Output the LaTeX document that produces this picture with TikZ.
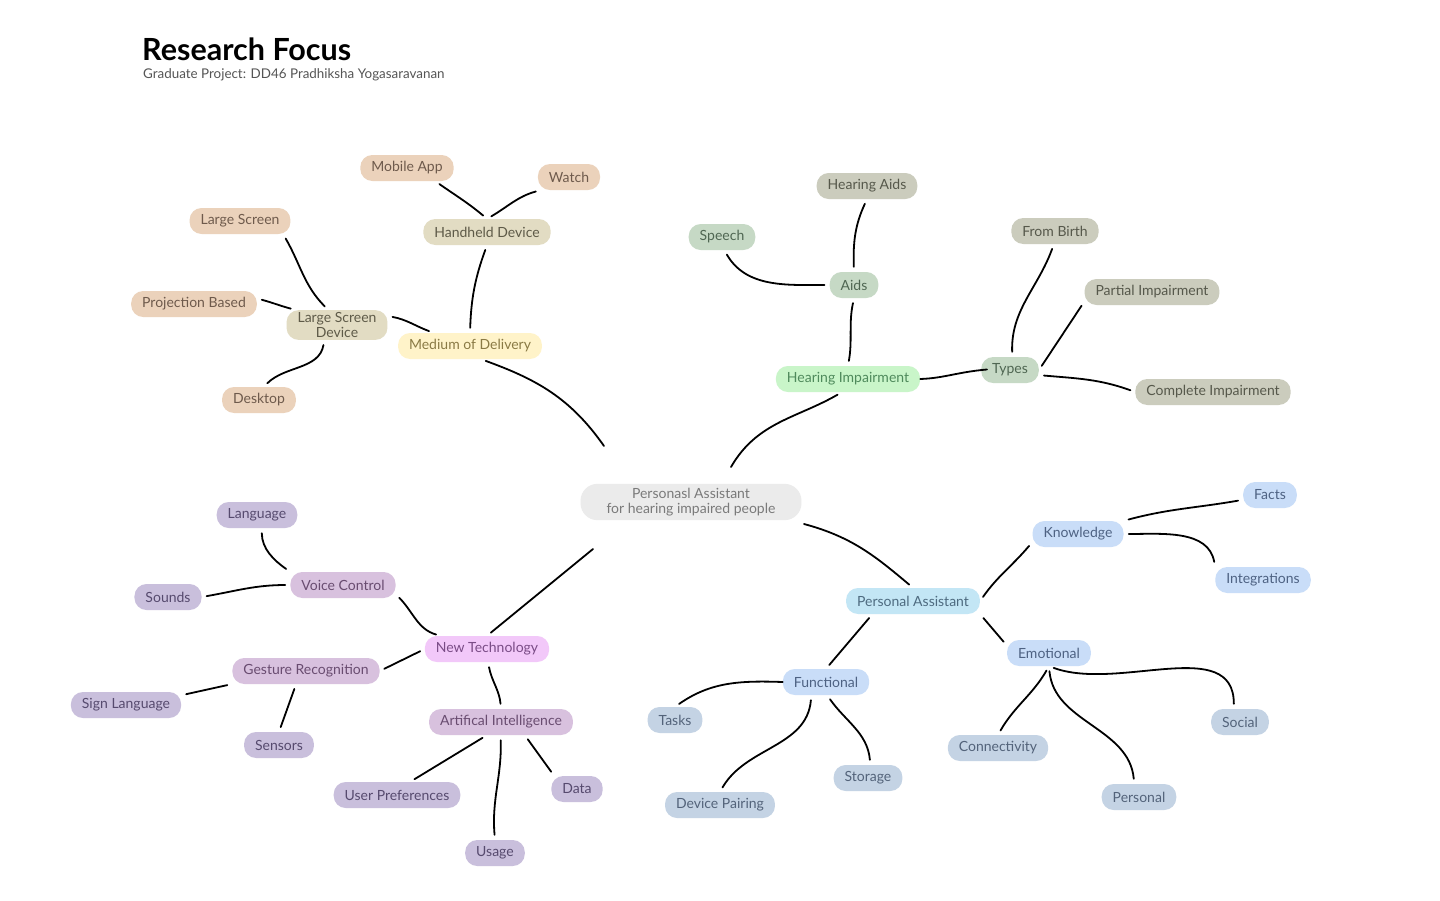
\documentclass[tikz,border=0pt]{standalone}
\usepackage{fontspec}
\setmainfont{Lato}
\usepackage{tikz}

\definecolor{rootfill}{HTML}{EBEBEB}
\definecolor{roottext}{HTML}{7A7A7A}
\definecolor{subtext}{HTML}{555555}
\definecolor{medfill}{HTML}{FFF3C9}
\definecolor{medtext}{HTML}{8A7A45}
\definecolor{tanfill}{HTML}{E2DCC3}
\definecolor{tantext}{HTML}{5E5A48}
\definecolor{peachfill}{HTML}{EBD2BB}
\definecolor{peachtext}{HTML}{6E5A4C}
\definecolor{hifill}{HTML}{C9F5C9}
\definecolor{hitext}{HTML}{4F8A5C}
\definecolor{sagefill}{HTML}{C6D9C5}
\definecolor{sagetext}{HTML}{4F6652}
\definecolor{olivefill}{HTML}{CBCCBD}
\definecolor{olivetext}{HTML}{56584B}
\definecolor{pafill}{HTML}{C3E6F5}
\definecolor{patext}{HTML}{4E6B80}
\definecolor{skyfill}{HTML}{C9DDF8}
\definecolor{skytext}{HTML}{4E6283}
\definecolor{slatefill}{HTML}{C4D3E4}
\definecolor{slatetext}{HTML}{53637A}
\definecolor{ntfill}{HTML}{F2C8F9}
\definecolor{nttext}{HTML}{7A4C86}
\definecolor{mauvefill}{HTML}{D8C1DE}
\definecolor{mauvetext}{HTML}{694C70}
\definecolor{lavfill}{HTML}{C9BFDC}
\definecolor{lavtext}{HTML}{564A6E}

\tikzset{
  topic/.style={rectangle,rounded corners=12pt,minimum height=26pt,inner xsep=11pt,inner ysep=3pt,font=\fontsize{14}{15.5}\selectfont},
  rootnode/.style={topic,fill=rootfill,text=roottext,align=center,rounded corners=17pt,inner xsep=26pt,inner ysep=4pt},
  med/.style={topic,fill=medfill,text=medtext},
  tan/.style={topic,fill=tanfill,text=tantext},
  peach/.style={topic,fill=peachfill,text=peachtext},
  hear/.style={topic,fill=hifill,text=hitext},
  sage/.style={topic,fill=sagefill,text=sagetext},
  olive/.style={topic,fill=olivefill,text=olivetext},
  assist/.style={topic,fill=pafill,text=patext},
  sky/.style={topic,fill=skyfill,text=skytext},
  slate/.style={topic,fill=slatefill,text=slatetext},
  tech/.style={topic,fill=ntfill,text=nttext},
  mauve/.style={topic,fill=mauvefill,text=mauvetext},
  lav/.style={topic,fill=lavfill,text=lavtext},
  link/.style={line width=1.8pt,line cap=round,shorten >=5pt,shorten <=5pt},
}

\begin{document}
\begin{tikzpicture}[x=1pt,y=-1pt]
\path[fill=white,use as bounding box] (0,0) rectangle (1440,900);

\node[anchor=base west,inner sep=0pt,font=\bfseries\fontsize{30.5}{32}\selectfont] (title) at (142,60) {Research Focus};
\node[anchor=base west,inner sep=0pt,text=subtext,font=\fontsize{13.4}{15}\selectfont] (subtitle) at (143,78) {Graduate Project: DD46 Pradhiksha Yogasaravanan};

\node[rootnode] (root) at (691,502) {Personasl Assistant\\for hearing impaired people};

% medium of delivery
\node[med] (med) at (470,346) {Medium of Delivery};
\node[tan] (hh) at (487,232) {Handheld Device};
\node[peach] (mob) at (407,168) {Mobile App};
\node[peach] (watch) at (569,177) {Watch};
\node[tan,align=center,inner ysep=2pt] (lsd) at (337,325) {Large Screen\\Device};
\node[peach] (ls) at (240,221) {Large Screen};
\node[peach] (proj) at (194,304) {Projection Based};
\node[peach] (desk) at (259,400) {Desktop};

% hearing impairment
\node[hear] (hi) at (848,379) {Hearing Impairment};
\node[sage] (aids) at (854,285) {Aids};
\node[sage] (speech) at (722,237) {Speech};
\node[olive] (haids) at (867,186) {Hearing Aids};
\node[sage] (types) at (1010,370) {Types};
\node[olive] (birth) at (1055,231) {From Birth};
\node[olive] (partial) at (1152,292) {Partial Impairment};
\node[olive] (complete) at (1213,392) {Complete Impairment};

% personal assistant
\node[assist] (pa) at (913,601) {Personal Assistant};
\node[sky] (know) at (1078,534) {Knowledge};
\node[sky] (facts) at (1270,495) {Facts};
\node[sky] (integ) at (1263,580) {Integrations};
\node[sky] (emo) at (1049,653) {Emotional};
\node[sky] (func) at (826,682) {Functional};
\node[slate] (conn) at (998,748) {Connectivity};
\node[slate] (pers) at (1139,797) {Personal};
\node[slate] (social) at (1240,722) {Social};
\node[slate] (tasks) at (675,720) {Tasks};
\node[slate] (dpair) at (720,805) {Device Pairing};
\node[slate] (storage) at (868,778) {Storage};

% new technology
\node[tech] (nt) at (487,649) {New Technology};
\node[mauve] (vc) at (343,585) {Voice Control};
\node[lav] (lang) at (257,515) {Language};
\node[lav] (sounds) at (168,597) {Sounds};
\node[mauve] (gr) at (306,671) {Gesture Recognition};
\node[lav] (sign) at (126,705) {Sign Language};
\node[lav] (sensors) at (279,745) {Sensors};
\node[mauve] (ai) at (501,722) {Artifical Intelligence};
\node[lav] (upref) at (397,795) {User Preferences};
\node[lav] (usage) at (495,853) {Usage};
\node[lav] (data) at (577,789) {Data};

% delivery links
\draw[link,shorten >=0pt] (med.-50) to[out=-20,in=125] ([shift={(-87,-56)}]root.center);
\draw[link] (med.north) to[out=88,in=-110] (hh.south);
\draw[link] (hh.north) to[out=140,in=-35] (mob.-25);
\draw[link] (hh.north) to[out=30,in=-165] (watch.-155);
\draw[link] (med.160) to[out=160,in=-10] (lsd.10);
\draw[link] (lsd.120) to[out=135,in=-60] (ls.-17);
\draw[link] (lsd.160) to[out=165,in=-15] (proj.5);
\draw[link] (lsd.-130) to[out=-100,in=45] (desk.70);

% hearing links
\draw[link,shorten <=0pt] ([shift={(40,-35)}]root.center) to[out=60,in=-150] (hi.-115);
\draw[link] (hi.north) to[out=80,in=-102] (aids.south);
\draw[link] (aids.west) to[out=180,in=-60] (speech.-80);
\draw[link] (aids.north) to[out=92,in=-115] (haids.south);
\draw[link,shorten <=0pt,shorten >=-6pt] (hi.east) to[out=2,in=185] (types.west);
\draw[link] (types.80) to[out=92,in=-110] (birth.-95);
\draw[link] (types.east) -- (partial.-172);
\draw[link] (types.-10) to[out=-5,in=160] (complete.west);

% assistant links
\draw[link,shorten <=0pt] ([shift={(113,22)}]root.center) to[out=-15,in=140] (pa.north);
\draw[link] (pa.east) to[out=55,in=-130] (know.-170);
\draw[link] (know.north east) to[out=15,in=-170] (facts.-170);
\draw[link] (know.east) to[out=0,in=100] (integ.north west);
\draw[link] (pa.south east) -- (emo.170);
\draw[link] (pa.-162) -- (func.north);
\draw[link] (emo.south) to[out=-120,in=60] (conn.north);
\draw[link] (emo.south) to[out=-85,in=95] (pers.110);
\draw[link] (emo.south) to[out=-20,in=90] (social.115);
\draw[link,shorten <=0pt] (func.west) to[out=178,in=35] (tasks.north);
\draw[link] (func.-138) to[out=-95,in=60] (dpair.north);
\draw[link] (func.-85) to[out=-55,in=95] (storage.80);

% technology links
\draw[link,shorten <=0pt] ([shift={(-98,47)}]root.center) -- (nt.north);
\draw[link] (nt.164) to[out=165,in=-45] (vc.-10);
\draw[link] (nt.west) -- (gr.east);
\draw[link] (nt.-85) to[out=-80,in=95] (ai.north);
\draw[link] (vc.north west) to[out=145,in=-90] (lang.-70);
\draw[link] (vc.west) to[out=180,in=10] (sounds.east);
\draw[link] (gr.190) -- (sign.10);
\draw[link] (gr.-127) -- (sensors.north);
\draw[link] (ai.-137) -- (upref.45);
\draw[link] (ai.-92) to[out=-88,in=95] (usage.north);
\draw[link] (ai.-29) -- (data.150);
\end{tikzpicture}
\end{document}
